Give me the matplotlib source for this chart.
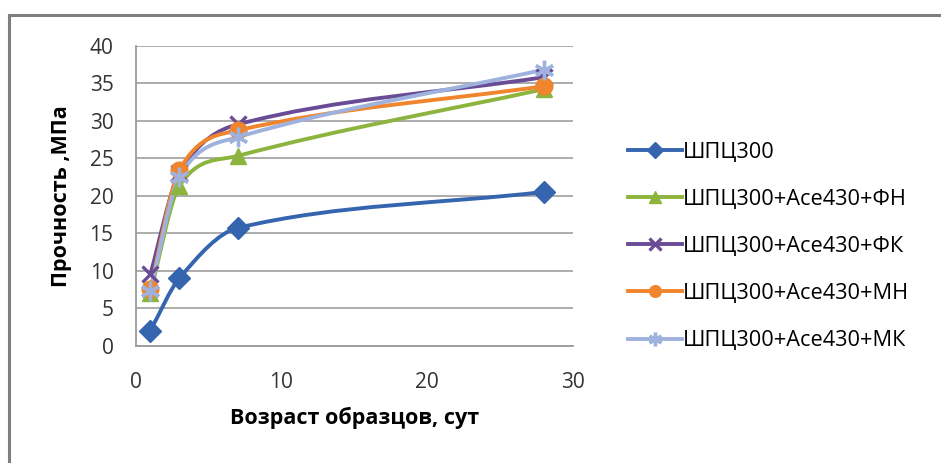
import matplotlib
matplotlib.use("Agg")
import matplotlib.pyplot as plt
from matplotlib.path import Path
from matplotlib.patches import PathPatch
from matplotlib.lines import Line2D

plt.rcParams["font.family"] = ["Open Sans", "DejaVu Sans"]

# Data
days = [1, 3, 7, 28]
shpc300 = [2.0, 9.0, 15.7, 20.5]
shpc_fn = [7.0, 21.3, 25.3, 34.2]
shpc_fk = [9.5, 23.0, 29.5, 35.8]
shpc_mn = [7.5, 23.4, 28.7, 34.6]
shpc_mk = [7.3, 22.5, 27.8, 36.8]

labels = [
    "ШПЦ300",
    "ШПЦ300+Ace430+ФН",
    "ШПЦ300+Ace430+ФК",
    "ШПЦ300+Ace430+МН",
    "ШПЦ300+Ace430+МК",
]
colors = ["#3465AE", "#8DB43E", "#6A4C96", "#F0852D", "#9FB2DE"]
markers = ["D", "^", "x", "o", (6, 2, 0)]
msizes = [11, 12, 12, 12, 14]


def smooth_path(xs, ys):
    """Smoothed line (cubic Hermite, slopes limited to avoid overshoot)."""
    n = len(xs)
    sec = [(ys[i + 1] - ys[i]) / (xs[i + 1] - xs[i]) for i in range(n - 1)]
    slopes = []
    for i in range(n):
        if i == 0:
            m = sec[0]
        elif i == n - 1:
            m = sec[-1]
        else:
            m = (ys[i + 1] - ys[i - 1]) / (xs[i + 1] - xs[i - 1])
            m = min(m, 3 * min(sec[i - 1], sec[i]))
        slopes.append(m)
    verts = [(xs[0], ys[0])]
    codes = [Path.MOVETO]
    for i in range(n - 1):
        h = xs[i + 1] - xs[i]
        verts += [(xs[i] + h / 3, ys[i] + slopes[i] * h / 3),
                  (xs[i + 1] - h / 3, ys[i + 1] - slopes[i + 1] * h / 3),
                  (xs[i + 1], ys[i + 1])]
        codes += [Path.CURVE4] * 3
    return Path(verts, codes)


fig = plt.figure(figsize=(9.41, 4.63), dpi=100)
ax = fig.add_axes([0.1442, 0.2534, 0.4648, 0.648])

series = [shpc300, shpc_fn, shpc_fk, shpc_mn, shpc_mk]
handles = []
for vals, col, mk, ms, lab in zip(series, colors, markers, msizes, labels):
    ax.add_patch(PathPatch(smooth_path(days, vals), facecolor="none",
                           edgecolor=col, linewidth=2.8, zorder=3))
    mew = 2.4 if mk == "x" or isinstance(mk, tuple) else 1
    ax.plot(days, vals, linestyle="none", marker=mk, markersize=ms,
            color=col, markeredgewidth=mew, zorder=4)
    handles.append(Line2D([], [], color=col, linewidth=2.8, marker=mk,
                          markersize=ms * 0.7, markeredgewidth=mew))

ax.set_xlim(0, 30)
ax.set_ylim(0, 40)
ax.set_xticks([0, 10, 20, 30])
ax.set_yticks(range(0, 41, 5))
ax.grid(True, axis="y", color="#A6A6A6", linewidth=1.3)
ax.set_axisbelow(True)
for side in ("top", "right"):
    ax.spines[side].set_visible(False)
for side in ("left", "bottom"):
    ax.spines[side].set_color("#9A9A9A")
    ax.spines[side].set_linewidth(1.3)
ax.tick_params(length=0, labelsize=15, colors="#333333")
ax.tick_params(axis="y", pad=16)
ax.tick_params(axis="x", pad=19)

fig.text(62 / 941, 1 - 196 / 463, "Прочность ,МПа", rotation=90,
         ha="center", va="center", fontsize=15.5, fontweight="bold")
fig.text(355 / 941, 1 - 418 / 463, "Возраст образцов, сут",
         ha="center", va="center", fontsize=15.5, fontweight="bold")

fig.legend(handles, labels, loc="upper left", bbox_to_anchor=(608 / 941, 1 - 122 / 463),
           frameon=False, fontsize=15.7, handlelength=2.5, handletextpad=0.05,
           labelspacing=1.2)

# outer chart frame (top and left edges visible)
fig.add_artist(Line2D([9 / 941, 9 / 941], [0, 1 - 15 / 463], color="#7F7F7F", linewidth=2.2))
fig.add_artist(Line2D([9 / 941, 1], [1 - 15 / 463, 1 - 15 / 463], color="#7F7F7F", linewidth=2.2))

fig.savefig("out.png", dpi=100)
